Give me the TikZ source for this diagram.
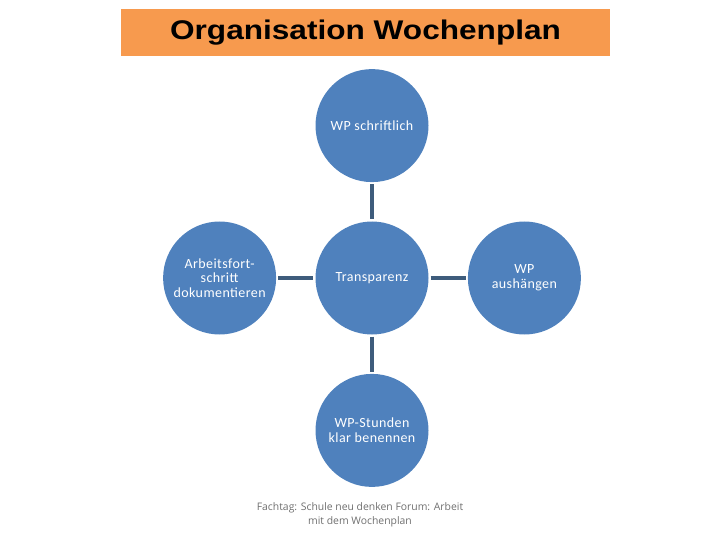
\documentclass[tikz,border=0pt]{standalone}
\usepackage{fontspec}
\setmainfont{Carlito}[LetterSpace=3]
\newfontfamily\titlefont{Liberation Sans}[FakeStretch=1.17]
\newfontfamily\notefont{Open Sans}
\usepackage{tikz}
\usetikzlibrary{positioning}
\definecolor{orange}{HTML}{F79A4E}
\definecolor{circblue}{HTML}{4F81BD}
\definecolor{linkblue}{HTML}{3E5C7C}
\definecolor{notegray}{HTML}{6F6F6F}

\begin{document}
\begin{tikzpicture}[x=1pt, y=-1pt, node distance=39pt, every node/.style={font=\fontsize{14}{14.8}\selectfont}, topic/.style={circle, fill=circblue, text=white, minimum size=113pt, inner sep=0pt, align=center}, link/.style={draw=linkblue, line width=3.2pt, shorten <=2pt, shorten >=2pt}]
\useasboundingbox (0,0) rectangle (720,540);
\node[fill=orange, minimum width=489pt, minimum height=47pt, inner sep=0pt, font=\titlefont\bfseries\fontsize{27}{30}\selectfont] (title) at (365.5,32.5) {Organisation Wochenplan};
\node[topic] (mitte) at (372,278) {Transparenz};
\node[topic,above=of mitte] (oben) {WP schriftlich};
\node[topic,below=of mitte] (unten) {WP-Stunden\\klar benennen};
\node[topic,left=of mitte] (links) {Arbeitsfort-\\schritt\\dokumentieren};
\node[topic,right=of mitte] (rechts) {WP\\aushängen};
\draw[link] (oben)--(mitte);
\draw[link] (mitte)--(unten);
\draw[link] (links)--(mitte);
\draw[link] (mitte)--(rechts);
\node[text=notegray, align=center, font=\notefont\fontsize{10.4}{14}\selectfont] (fuss) at (360,515) {Fachtag: Schule neu denken Forum: Arbeit\\mit dem Wochenplan};
\end{tikzpicture}
\end{document}
